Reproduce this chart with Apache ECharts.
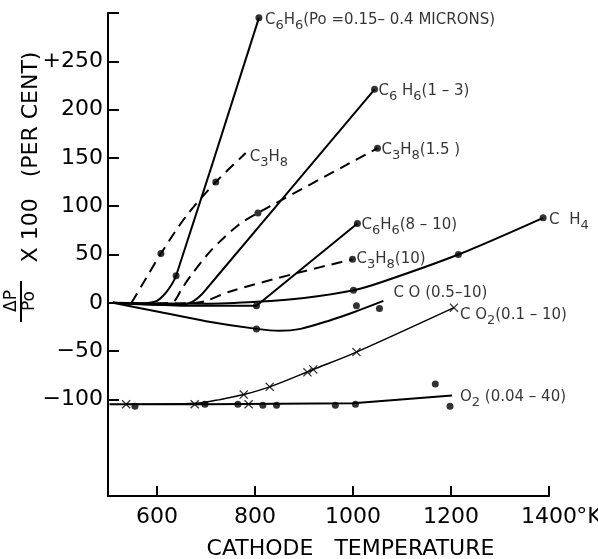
<!DOCTYPE html>
<html>
<head>
<meta charset="utf-8">
<script src="https://cdn.jsdelivr.net/npm/echarts@6/dist/echarts.min.js"></script>
<style>
	html, body { margin: 0; padding: 0; background: #fff; }
	#chart { width: 598px; height: 559px; }
</style>
</head>
<body>
<div id="chart"></div>
<script>
	// [cathode temperature (K), dP/Po x 100 (per cent)]
	const c6h6LowCurve = [[510, 0], [560, -1], [585, 0], [600, 2], [612, 7], [625, 15], [639, 28], [808, 295]];
	const c6h6LowPoints = [[639, 28], [808, 295]];
	const c3h8Curve = [[548, 0], [575, 23], [608, 51], [660, 90], [720, 125], [781, 155]];
	const c3h8Points = [[608, 51], [720, 125]];
	const c6h6MidCurve = [[510, 0], [600, -2], [650, -2], [672, 1], [690, 8], [712, 21], [1044, 221]];
	const c6h6MidPoints = [[1044, 221]];
	const c3h8MidCurve = [[600, -1], [633, 1], [650, 14], [669, 28], [710, 54], [765, 80], [806, 93], [1050, 160]];
	const c3h8MidPoints = [[806, 93], [1050, 160]];
	const c6h6HighCurve = [[510, 0], [650, -3], [803, -3], [1009, 82]];
	const c6h6HighPoints = [[803, -3], [1009, 82]];
	const c3h8HighCurve = [[600, -1], [680, 0], [700, 2], [751, 12], [887, 31], [999, 45]];
	const c3h8HighPoints = [[999, 45]];
	const ch4Curve = [[510, 0], [700, -1], [803, 1], [900, 5], [1001, 13], [1056, 21], [1215, 50], [1388, 88]];
	const ch4Points = [[1001, 13], [1215, 50], [1388, 88]];
	const coCurve = [[510, 0], [600, -9], [700, -19], [803, -27], [850, -29], [893, -27], [954, -18], [1000, -10], [1062, 2]];
	const coPoints = [[803, -27], [1007, -3], [1054, -6]];
	const co2Curve = [[537, -105], [680, -104], [730, -100], [777, -95], [830, -87], [919, -69], [1007, -51], [1206, -5]];
	const co2Points = [[537, -105], [677, -105], [777, -95], [787, -105], [830, -87], [907, -72], [919, -69], [1007, -51], [1206, -5]];
	const o2Curve = [[503, -105], [700, -105], [1000, -104], [1202, -96]];
	const o2Points = [[555, -107], [698, -105], [765, -105], [816, -106], [844, -106], [964, -106], [1005, -105], [1168, -84], [1198, -107]];

	const xTicks = [600, 800, 1000, 1200, 1400];
	const yTicks = [-100, -50, 0, 50, 100, 150, 200, 250];

	document.addEventListener('DOMContentLoaded', function() {
		const chart = echarts.init(document.getElementById('chart'));
		const font = '"DejaVu Sans", sans-serif';
		const solid = { color: '#000', width: 2 };
		const dashed = { color: '#000', width: 2, type: [11, 7] };
		const cross = 'path://M1,0 L5,4 L9,0 L10,1 L6,5 L10,9 L9,10 L5,6 L1,10 L0,9 L4,5 L0,1 Z';

		function curve(data, style, smooth) {
			return {
				type: 'line', data: data, symbol: 'none', smooth: smooth ? 0.3 : false,
				lineStyle: style, silent: true, z: 2
			};
		}
		function dots(data, symbol, size) {
			return {
				type: 'scatter', data: data, symbol: symbol || 'circle', symbolSize: size || 7,
				itemStyle: { color: '#000' }, silent: true, z: 3
			};
		}
		function tag(curveData, text, dx, dy) {
			return {
				value: curveData[curveData.length - 1],
				label: { formatter: text, offset: [dx, dy] }
			};
		}

		const option = {
			animation: false,
			backgroundColor: '#fff',
			grid: { left: 108, right: 49, top: 13, bottom: 63, outerBoundsMode: 'none' },
			xAxis: {
				type: 'value', min: 500, max: 1400,
				name: 'CATHODE   TEMPERATURE', nameLocation: 'middle', nameGap: 42,
				nameTextStyle: { color: '#000', fontSize: 22, fontFamily: font, padding: [0, 0, 0, 44] },
				axisLine: { onZero: false, lineStyle: { color: '#000', width: 2 } },
				axisTick: { inside: true, length: 10, customValues: xTicks, lineStyle: { color: '#000', width: 2 } },
				axisLabel: {
					customValues: xTicks, color: '#000', fontSize: 22, fontFamily: font, margin: 10,
					formatter: function(v) { return v === 1400 ? '{p|}1400{k|°K}' : String(v); },
					rich: { p: { width: 24 }, k: { width: 24, fontSize: 22, fontFamily: font, color: '#000' } }
				},
				splitLine: { show: false }
			},
			yAxis: {
				type: 'value', min: -200, max: 300,
				axisLine: { onZero: false, lineStyle: { color: '#000', width: 2 } },
				axisTick: { inside: true, length: 11, customValues: yTicks.concat([300]), lineStyle: { color: '#000', width: 2 } },
				axisLabel: {
					customValues: yTicks, color: '#000', fontSize: 22, fontFamily: font, margin: 5,
					formatter: function(v) { return v === 250 ? '+250' : (v < 0 ? '\u2212' + (-v) : String(v)); }
				},
				splitLine: { show: false }
			},
			graphic: [
				{ type: 'text', x: 31, y: 157, rotation: Math.PI / 2,
					style: { text: 'X 100   (PER CENT)', fill: '#000', font: '22px ' + font, align: 'center', verticalAlign: 'middle' } },
				{ type: 'text', x: 12, y: 301, rotation: Math.PI / 2,
					style: { text: 'ΔP', fill: '#000', font: '17px ' + font, align: 'center', verticalAlign: 'middle' } },
				{ type: 'line', shape: { x1: 21, y1: 281, x2: 21, y2: 322 }, style: { stroke: '#000', lineWidth: 2 } },
				{ type: 'text', x: 30, y: 301, rotation: Math.PI / 2,
					style: { text: 'Po', fill: '#000', font: '17px ' + font, align: 'center', verticalAlign: 'middle' } }
			],
			series: [
				curve(c6h6LowCurve, solid, true), dots(c6h6LowPoints),
				curve(c3h8Curve, dashed, true), dots(c3h8Points),
				curve(c6h6MidCurve, solid, true), dots(c6h6MidPoints),
				curve(c3h8MidCurve, dashed, true), dots(c3h8MidPoints),
				curve(c6h6HighCurve, solid, false), dots(c6h6HighPoints),
				curve(c3h8HighCurve, dashed, true), dots(c3h8HighPoints),
				curve(ch4Curve, solid, true), dots(ch4Points),
				curve(coCurve, solid, true), dots(coPoints),
				curve(co2Curve, { color: '#000', width: 1.5 }, true), dots(co2Points, cross, 9),
				curve(o2Curve, solid, false), dots(o2Points),
				{
					type: 'scatter', symbolSize: 0, silent: true, z: 4,
					label: {
						show: true, position: 'right', distance: 4, color: '#000', fontSize: 15, fontFamily: font,
						rich: { s: { fontSize: 13, fontFamily: font, color: '#000', padding: [11, 0, 0, 0] } }
					},
					data: [
						tag(c6h6LowCurve, 'C{s|6}H{s|6}(Po =0.15– 0.4 MICRONS)', 2, 2),
						tag(c3h8Curve, 'C{s|3}H{s|8}', 0, 4),
						tag(c6h6MidCurve, 'C{s|6} H{s|6}(1 – 3)', 0, 2),
						tag(c3h8MidCurve, 'C{s|3}H{s|8}(1.5 )', 0, 2),
						tag(c6h6HighCurve, 'C{s|6}H{s|6}(8 – 10)', 0, 2),
						tag(c3h8HighCurve, 'C{s|3}H{s|8}(10)', 0, 0),
						tag(ch4Curve, 'C  H{s|4}', 2, 2),
						tag(coCurve, 'C O (0.5–10)', 6, -8),
						tag(co2Curve, 'C O{s|2}(0.1 – 10)', 2, 7),
						tag(o2Curve, 'O{s|2} (0.04 – 40)', 4, 2)
					]
				}
			]
		};
		chart.setOption(option);
	});
</script>
</body>
</html>
